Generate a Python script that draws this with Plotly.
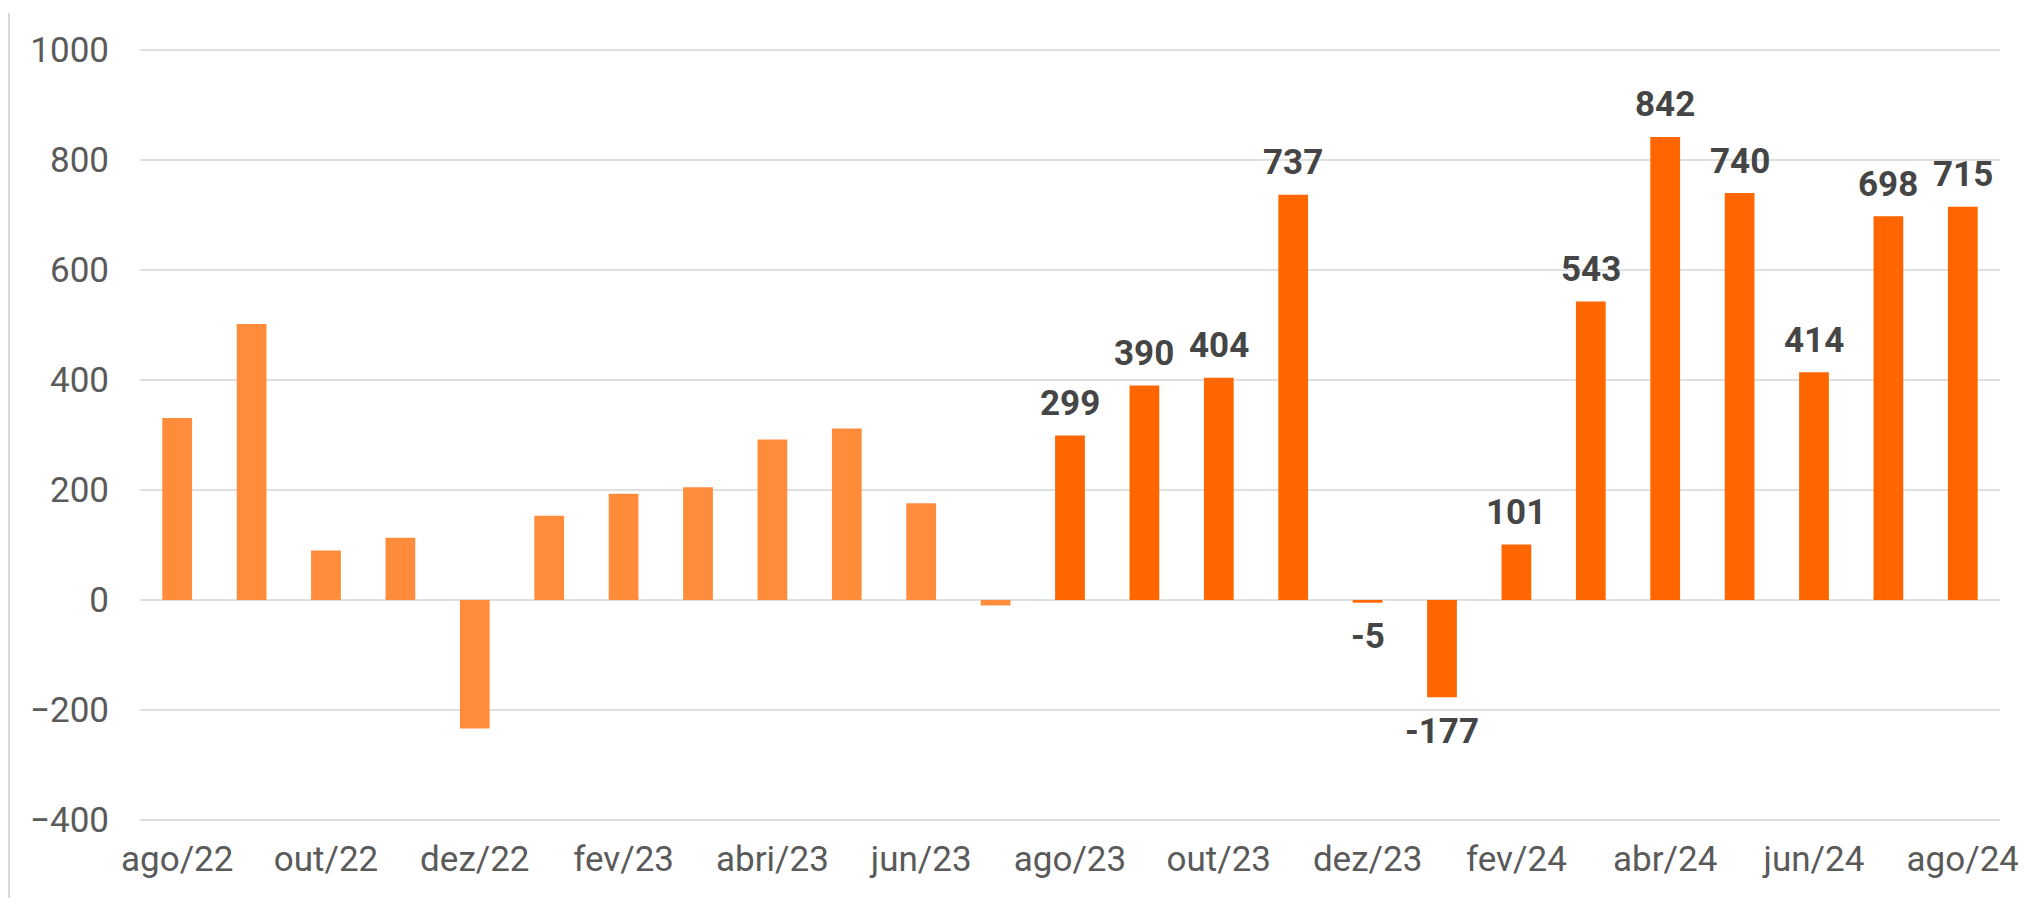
import plotly.graph_objects as go

categories = ["ago/22", "set/22", "out/22", "nov/22", "dez/22", "jan/23", "fev/23",
              "mar/23", "abr/23", "mai/23", "jun/23", "jul/23",
              "ago/23", "set/23", "out/23", "nov/23", "dez/23", "jan/24", "fev/24",
              "mar/24", "abr/24", "mai/24", "jun/24", "jul/24", "ago/24"]
values_prev = [331, 502, 90, 113, -234, 153, 193, 205, 292, 312, 176, -10]
values_last = [299, 390, 404, 737, -5, -177, 101, 543, 842, 740, 414, 698, 715]
tick_labels = ["ago/22", "out/22", "dez/22", "fev/23", "abri/23", "jun/23", "ago/23",
               "out/23", "dez/23", "fev/24", "abr/24", "jun/24", "ago/24"]
y_ticks = [-400, -200, 0, 200, 400, 600, 800, 1000]

n_prev = len(values_prev)
cats_prev = categories[:n_prev]
cats_last = categories[n_prev:]

FONT = "Roboto"

fig = go.Figure()
fig.add_trace(go.Bar(x=cats_prev, y=values_prev, marker_color="#FF8C3B",
                     marker_line_width=0, width=0.4, hoverinfo="x+y"))
fig.add_trace(go.Bar(x=cats_last, y=values_last, marker_color="#FF6600",
                     marker_line_width=0, width=0.4, hoverinfo="x+y"))

for c, v in zip(cats_last, values_last):
    fig.add_annotation(x=c, y=v, text=str(v), showarrow=False,
                       yanchor="middle", xanchor="center",
                       yshift=32 if v >= 0 else -34,
                       font=dict(family=FONT, size=35, color="#454545", weight="bold"))

fig.add_shape(type="line", xref="paper", yref="paper", x0=-0.0704, x1=-0.0704,
              y0=-0.12, y1=1.047, line=dict(color="#cfcfcf", width=1.5))

fig.update_layout(
    width=2026, height=898,
    margin=dict(l=132, r=34, t=41, b=85),
    paper_bgcolor="white", plot_bgcolor="white",
    showlegend=False, barmode="overlay",
    xaxis=dict(type="category", categoryorder="array", categoryarray=categories,
               tickvals=categories[::2], ticktext=tick_labels,
               showgrid=False, showline=False, ticks="", ticklabelstandoff=14,
               tickfont=dict(family=FONT, size=35, color="#5a5a5a"),
               range=[-0.5, len(categories) - 0.5]),
    yaxis=dict(range=[-402, 1002], tickvals=y_ticks, showgrid=True,
               gridcolor="#e0e0e0", gridwidth=1.5, zeroline=True,
               zerolinecolor="#e0e0e0", zerolinewidth=1.5, showline=False,
               ticks="", ticklabelstandoff=30,
               tickfont=dict(family=FONT, size=35, color="#5a5a5a")),
)

fig.write_html("out.html")
